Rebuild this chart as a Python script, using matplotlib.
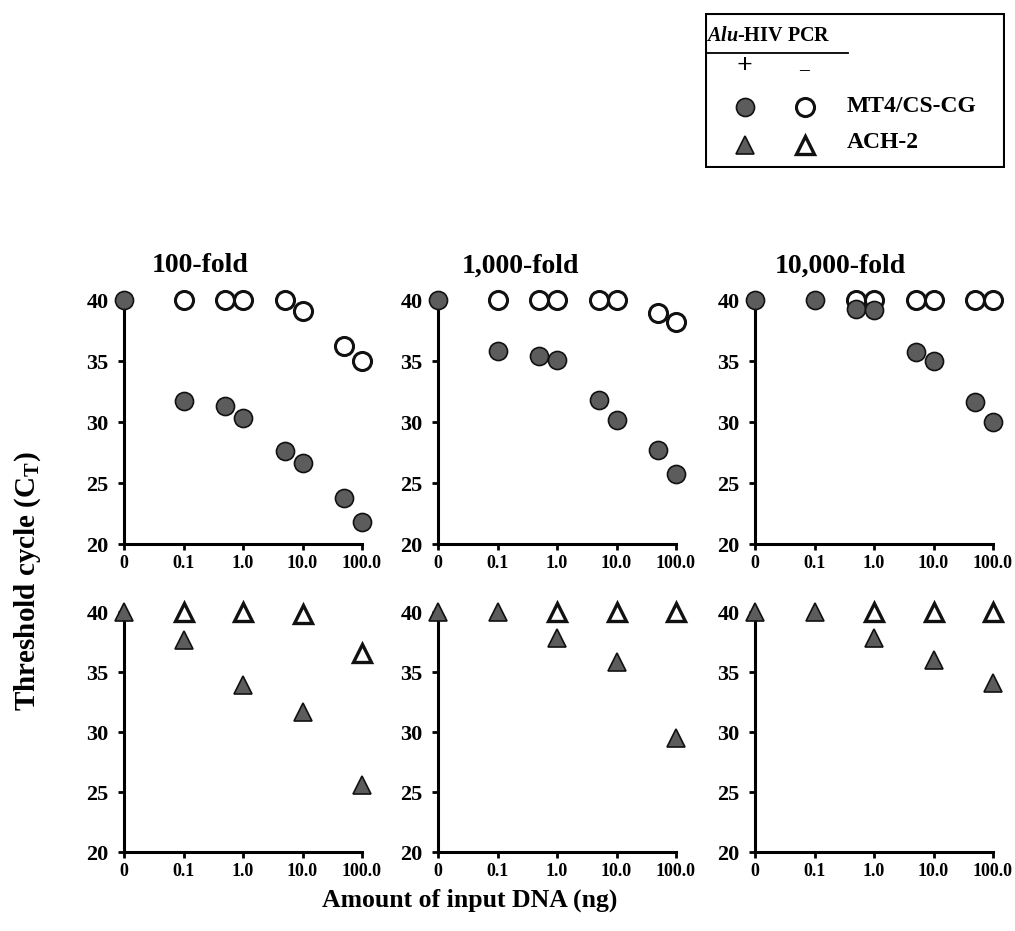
import numpy as np
import matplotlib
matplotlib.use("Agg")
import matplotlib.pyplot as plt
from matplotlib.patches import Rectangle

plt.rcParams["font.family"] = ["Liberation Serif", "DejaVu Serif"]
plt.rcParams["font.weight"] = "bold"
plt.rcParams["mathtext.fontset"] = "custom"
plt.rcParams["mathtext.rm"] = "Liberation Serif:bold"
plt.rcParams["mathtext.it"] = "Liberation Serif:italic:bold"
plt.rcParams["mathtext.bf"] = "Liberation Serif:bold"

# amount of input DNA (ng)
dna_top = [0, 0.1, 0.5, 1.0, 5.0, 10.0, 50.0, 100.0]
dna_bottom = [0, 0.1, 1.0, 10.0, 100.0]
tick_vals = [0, 0.1, 1.0, 10.0, 100.0]
tick_labels = ["0", "0.1", "1.0", "10.0", "100.0"]
folds = ["100-fold", "1,000-fold", "10,000-fold"]

# MT4/CS-CG, Alu-HIV PCR + (filled) and - (open); None = not measured
mt4_pos = [
    [40.0, 31.7, 31.3, 30.3, 27.6, 26.6, 23.8, 21.8],
    [40.0, 35.8, 35.4, 35.1, 31.8, 30.2, 27.7, 25.7],
    [40.0, 40.0, 39.3, 39.2, 35.7, 35.0, 31.6, 30.0],
]
mt4_neg = [
    [None, 40.0, 40.0, 40.0, 40.0, 39.1, 36.2, 35.0],
    [None, 40.0, 40.0, 40.0, 40.0, 40.0, 38.9, 38.2],
    [None, None, 40.0, 40.0, 40.0, 40.0, 40.0, 40.0],
]
# ACH-2
ach_pos = [
    [40.0, 37.7, 33.9, 31.7, 25.6],
    [40.0, 40.0, 37.8, 35.8, 29.5],
    [40.0, 40.0, 37.8, 36.0, 34.1],
]
ach_neg = [
    [None, 40.0, 40.0, 39.8, 36.6],
    [None, None, 40.0, 40.0, 40.0],
    [None, None, 40.0, 40.0, 40.0],
]

FILL = "#5c5c5c"


def fwd(x):
    x = np.asarray(x, dtype=float)
    return np.where(x > 0, np.log10(np.maximum(x, 1e-12)) + 2.0, 0.0)


def inv(p):
    p = np.asarray(p, dtype=float)
    return np.where(p > 0, 10.0 ** (p - 2.0), 0.0)


def pairs(xs, ys):
    pts = [(x, y) for x, y in zip(xs, ys) if y is not None]
    return [p[0] for p in pts], [p[1] for p in pts]


def style_axis(ax):
    ax.set_xscale("function", functions=(fwd, inv))
    ax.set_xlim(0, 100)
    ax.set_ylim(20, 40)
    ax.spines["top"].set_visible(False)
    ax.spines["right"].set_visible(False)
    for s in ("left", "bottom"):
        ax.spines[s].set_linewidth(2.2)
    ax.set_xticks(tick_vals)
    ax.set_xticklabels(tick_labels)
    ax.xaxis.set_minor_locator(matplotlib.ticker.NullLocator())
    ax.set_yticks([20, 25, 30, 35, 40])
    ax.tick_params(axis="both", direction="out", length=4, width=2)
    ax.tick_params(axis="x", labelsize=13, pad=4)
    ax.tick_params(axis="y", labelsize=16, pad=7)
    for lab in ax.get_xticklabels() + ax.get_yticklabels():
        lab.set_fontweight("bold")


fig = plt.figure(figsize=(10.15, 9.31), dpi=100)
W, H = 1015.0, 931.0
col_left = [124, 438, 755]
col_w = 238
top_row = (300, 544)
bot_row = (612, 852)
title_x = [200, 520, 840]

mk = dict(markersize=13, markeredgecolor="#111111", linestyle="none",
          clip_on=False, zorder=5)

for i in range(3):
    x0 = col_left[i] / W
    ax = fig.add_axes([x0, 1 - top_row[1] / H, col_w / W,
                       (top_row[1] - top_row[0]) / H])
    style_axis(ax)
    xs, ys = pairs(dna_top, mt4_neg[i])
    ax.plot(xs, ys, marker="o", markerfacecolor="white",
            markeredgewidth=2.2, **mk)
    xs, ys = pairs(dna_top, mt4_pos[i])
    ax.plot(xs, ys, marker="o", markerfacecolor=FILL,
            markeredgewidth=1.2, **mk)
    fig.text(title_x[i] / W, 1 - 266 / H, folds[i], fontsize=20,
             fontweight="bold", ha="center", va="center")

    ax = fig.add_axes([x0, 1 - bot_row[1] / H, col_w / W,
                       (bot_row[1] - bot_row[0]) / H])
    style_axis(ax)
    xs, ys = pairs(dna_bottom, ach_neg[i])
    ax.plot(xs, ys, marker="^", markerfacecolor="white",
            markeredgewidth=2.4, **mk)
    xs, ys = pairs(dna_bottom, ach_pos[i])
    ax.plot(xs, ys, marker="^", markerfacecolor=FILL,
            markeredgewidth=1.2, **mk)

fig.text(28 / W, 1 - 581 / H, "Threshold cycle (C$_\\mathregular{T}$)",
         rotation=90, ha="center", va="center", fontsize=21,
         fontweight="bold")
fig.text(470 / W, 1 - 900 / H, "Amount of input DNA (ng)",
         ha="center", va="center", fontsize=18.5, fontweight="bold")

# legend box drawn in pixel coordinates
lax = fig.add_axes([705 / W, 1 - 168 / H, 300 / W, 155 / H])
lax.set_xlim(705, 1005)
lax.set_ylim(168, 13)
lax.axis("off")
lax.add_patch(Rectangle((706, 14), 298, 153, fill=False, lw=1.5,
                        edgecolor="black"))
lax.text(706, 36, "$\\mathit{Alu}$-HIV PCR", fontsize=14.5,
         fontweight="bold", va="center", ha="left")
lax.plot([706, 848], [53, 53], color="black", lw=1.3)
lax.text(744, 66, "+", fontsize=20, ha="center", va="center")
lax.text(804, 71, "\u2013", fontsize=14, ha="center", va="center")
lax.plot([745], [107], marker="o", markerfacecolor=FILL,
         markeredgewidth=1.2, **mk)
lax.plot([805], [107], marker="o", markerfacecolor="white",
         markeredgewidth=2.2, **mk)
lax.plot([745], [145], marker="^", markerfacecolor=FILL,
         markeredgewidth=1.2, **mk)
lax.plot([805], [145], marker="^", markerfacecolor="white",
         markeredgewidth=2.4, **mk)
lax.text(847, 106, "MT4/CS-CG", fontsize=17, fontweight="bold",
         va="center", ha="left")
lax.text(847, 143, "ACH-2", fontsize=17, fontweight="bold",
         va="center", ha="left")

fig.savefig("out.png", dpi=100)
